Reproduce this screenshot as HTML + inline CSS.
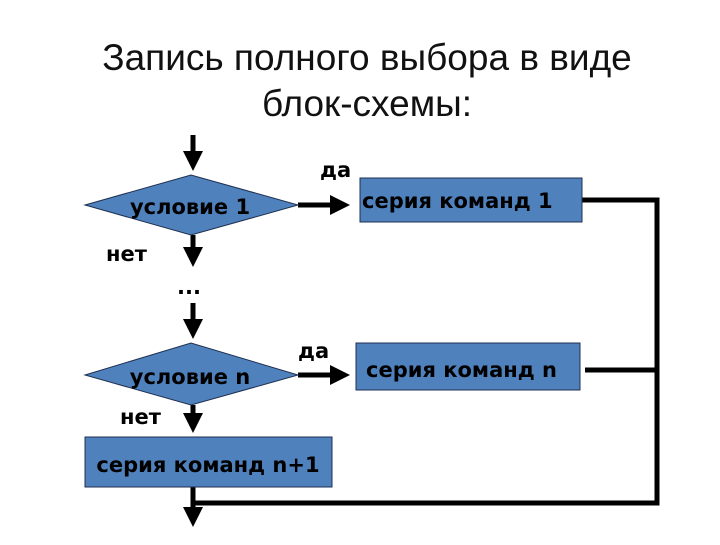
<!DOCTYPE html>
<html><head><meta charset="utf-8"><style>
body{margin:0;background:#fff;width:720px;height:540px;overflow:hidden}
svg text{font-family:"Liberation Sans","DejaVu Sans",sans-serif}
svg .b{font-family:"DejaVu Sans","Liberation Sans",sans-serif;font-weight:bold}
</style></head><body>
<svg width="720" height="540" viewBox="0 0 720 540">
<defs><marker id="a" markerWidth="4" markerHeight="4" refX="3" refY="2" orient="auto" markerUnits="strokeWidth"><path d="M0,0L4,2L0,4z" fill="#000"/></marker></defs>
<text x="367" y="70" font-size="37" text-anchor="middle" fill="#111">Запись полного выбора в виде</text>
<text x="367" y="116" font-size="37" text-anchor="middle" fill="#111">блок-схемы:</text>
<g stroke="#000" stroke-width="5" fill="none">
<line x1="193" y1="135" x2="193" y2="166" marker-end="url(#a)"/>
<line x1="298" y1="205" x2="345" y2="205" marker-end="url(#a)"/>
<line x1="193" y1="235" x2="193" y2="262" marker-end="url(#a)"/>
<line x1="193" y1="303" x2="193" y2="334" marker-end="url(#a)"/>
<line x1="298" y1="375" x2="345" y2="375" marker-end="url(#a)"/>
<line x1="193" y1="405" x2="193" y2="428" marker-end="url(#a)"/>
<line x1="193" y1="487" x2="193" y2="522" marker-end="url(#a)"/>
<polyline points="582,200 657,200 657,503 193,503"/>
<line x1="585" y1="370" x2="657" y2="370"/>
</g>
<g fill="#4f81bd" stroke="#1f3050" stroke-width="1">
<polygon points="85,205 191,175 298,205 191,235"/>
<polygon points="85,375 191,343 298,375 191,405"/>
<rect x="360" y="178" width="222" height="44"/>
<rect x="356" y="343" width="224" height="47"/>
<rect x="85" y="437" width="247" height="50"/>
</g>
<g font-size="21" fill="#000" class="b">
<text class="b" x="190" y="214" text-anchor="middle">условие 1</text>
<text class="b" x="190" y="384" text-anchor="middle">условие n</text>
<text class="b" x="362" y="208">серия команд 1</text>
<text class="b" x="366" y="377">серия команд n</text>
<text class="b" x="208" y="472" text-anchor="middle">серия команд n+1</text>
<text class="b" x="320" y="177">да</text>
<text class="b" x="298" y="358">да</text>
<text class="b" x="106" y="261">нет</text>
<text class="b" x="120" y="424">нет</text>
<text class="b" x="177" y="294">...</text>
</g>
</svg>
</body></html>
